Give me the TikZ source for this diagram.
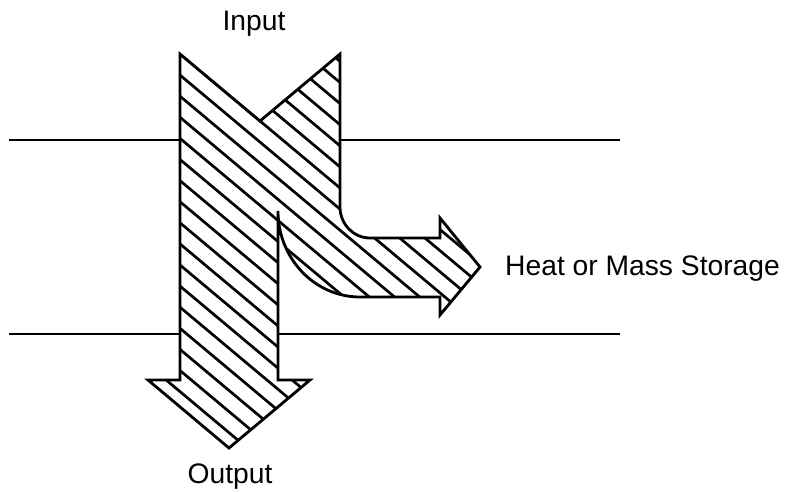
\documentclass[tikz,border=0pt]{standalone}
\usepackage{fontspec}
\setmainfont{Liberation Sans}
\begin{document}
\begin{tikzpicture}[x=0.03cm,y=-0.03cm,
  outline/.style={line width=2.4pt,line join=miter,miter limit=10},
  hatchline/.style={line width=2.3pt},
  flowline/.style={line width=2.5pt},
  label/.style={font=\fontsize{24.1}{28}\selectfont,inner sep=0pt}]
\useasboundingbox (0,0) rectangle (787,491);
% horizontal boundary lines
\coordinate (tl1) at (9,140);   \coordinate (tl2) at (180,140);
\coordinate (tr1) at (340,140); \coordinate (tr2) at (620,140);
\coordinate (bl1) at (9,334);   \coordinate (bl2) at (180,334);
\coordinate (br1) at (278,334); \coordinate (br2) at (620,334);
\draw[flowline] (tl1) -- (tl2);
\draw[flowline] (tr1) -- (tr2);
\draw[flowline] (bl1) -- (bl2);
\draw[flowline] (br1) -- (br2);
% the flow shape
\def\flowshape{(180,54) -- (180,380) -- (148,380) -- (229,448) -- (310,380) -- (278,380) -- (278,211)
  .. controls (278,258.5) and (314.7,297) .. (360,297) -- (440,297) -- (440,315) -- (480,267)
  -- (440,218) -- (440,238) -- (370,238) .. controls (353.4,238) and (340,224) .. (340,207)
  -- (340,54) -- (260,121) -- cycle}
\begin{scope}
  \clip \flowshape;
  \foreach \k in {-8,...,18}{
    \draw[hatchline] (80,{54+21.1*\k-83.75}) -- (580,{54+21.1*\k+335});
  }
\end{scope}
\draw[outline] \flowshape;
% labels
\node[label,anchor=base] (input) at (254,30) {Input};
\node[label,anchor=base] (output) at (230,483) {Output};
\node[label,anchor=base west] (storage) at (505,275) {Heat or Mass Storage};
\end{tikzpicture}
\end{document}
